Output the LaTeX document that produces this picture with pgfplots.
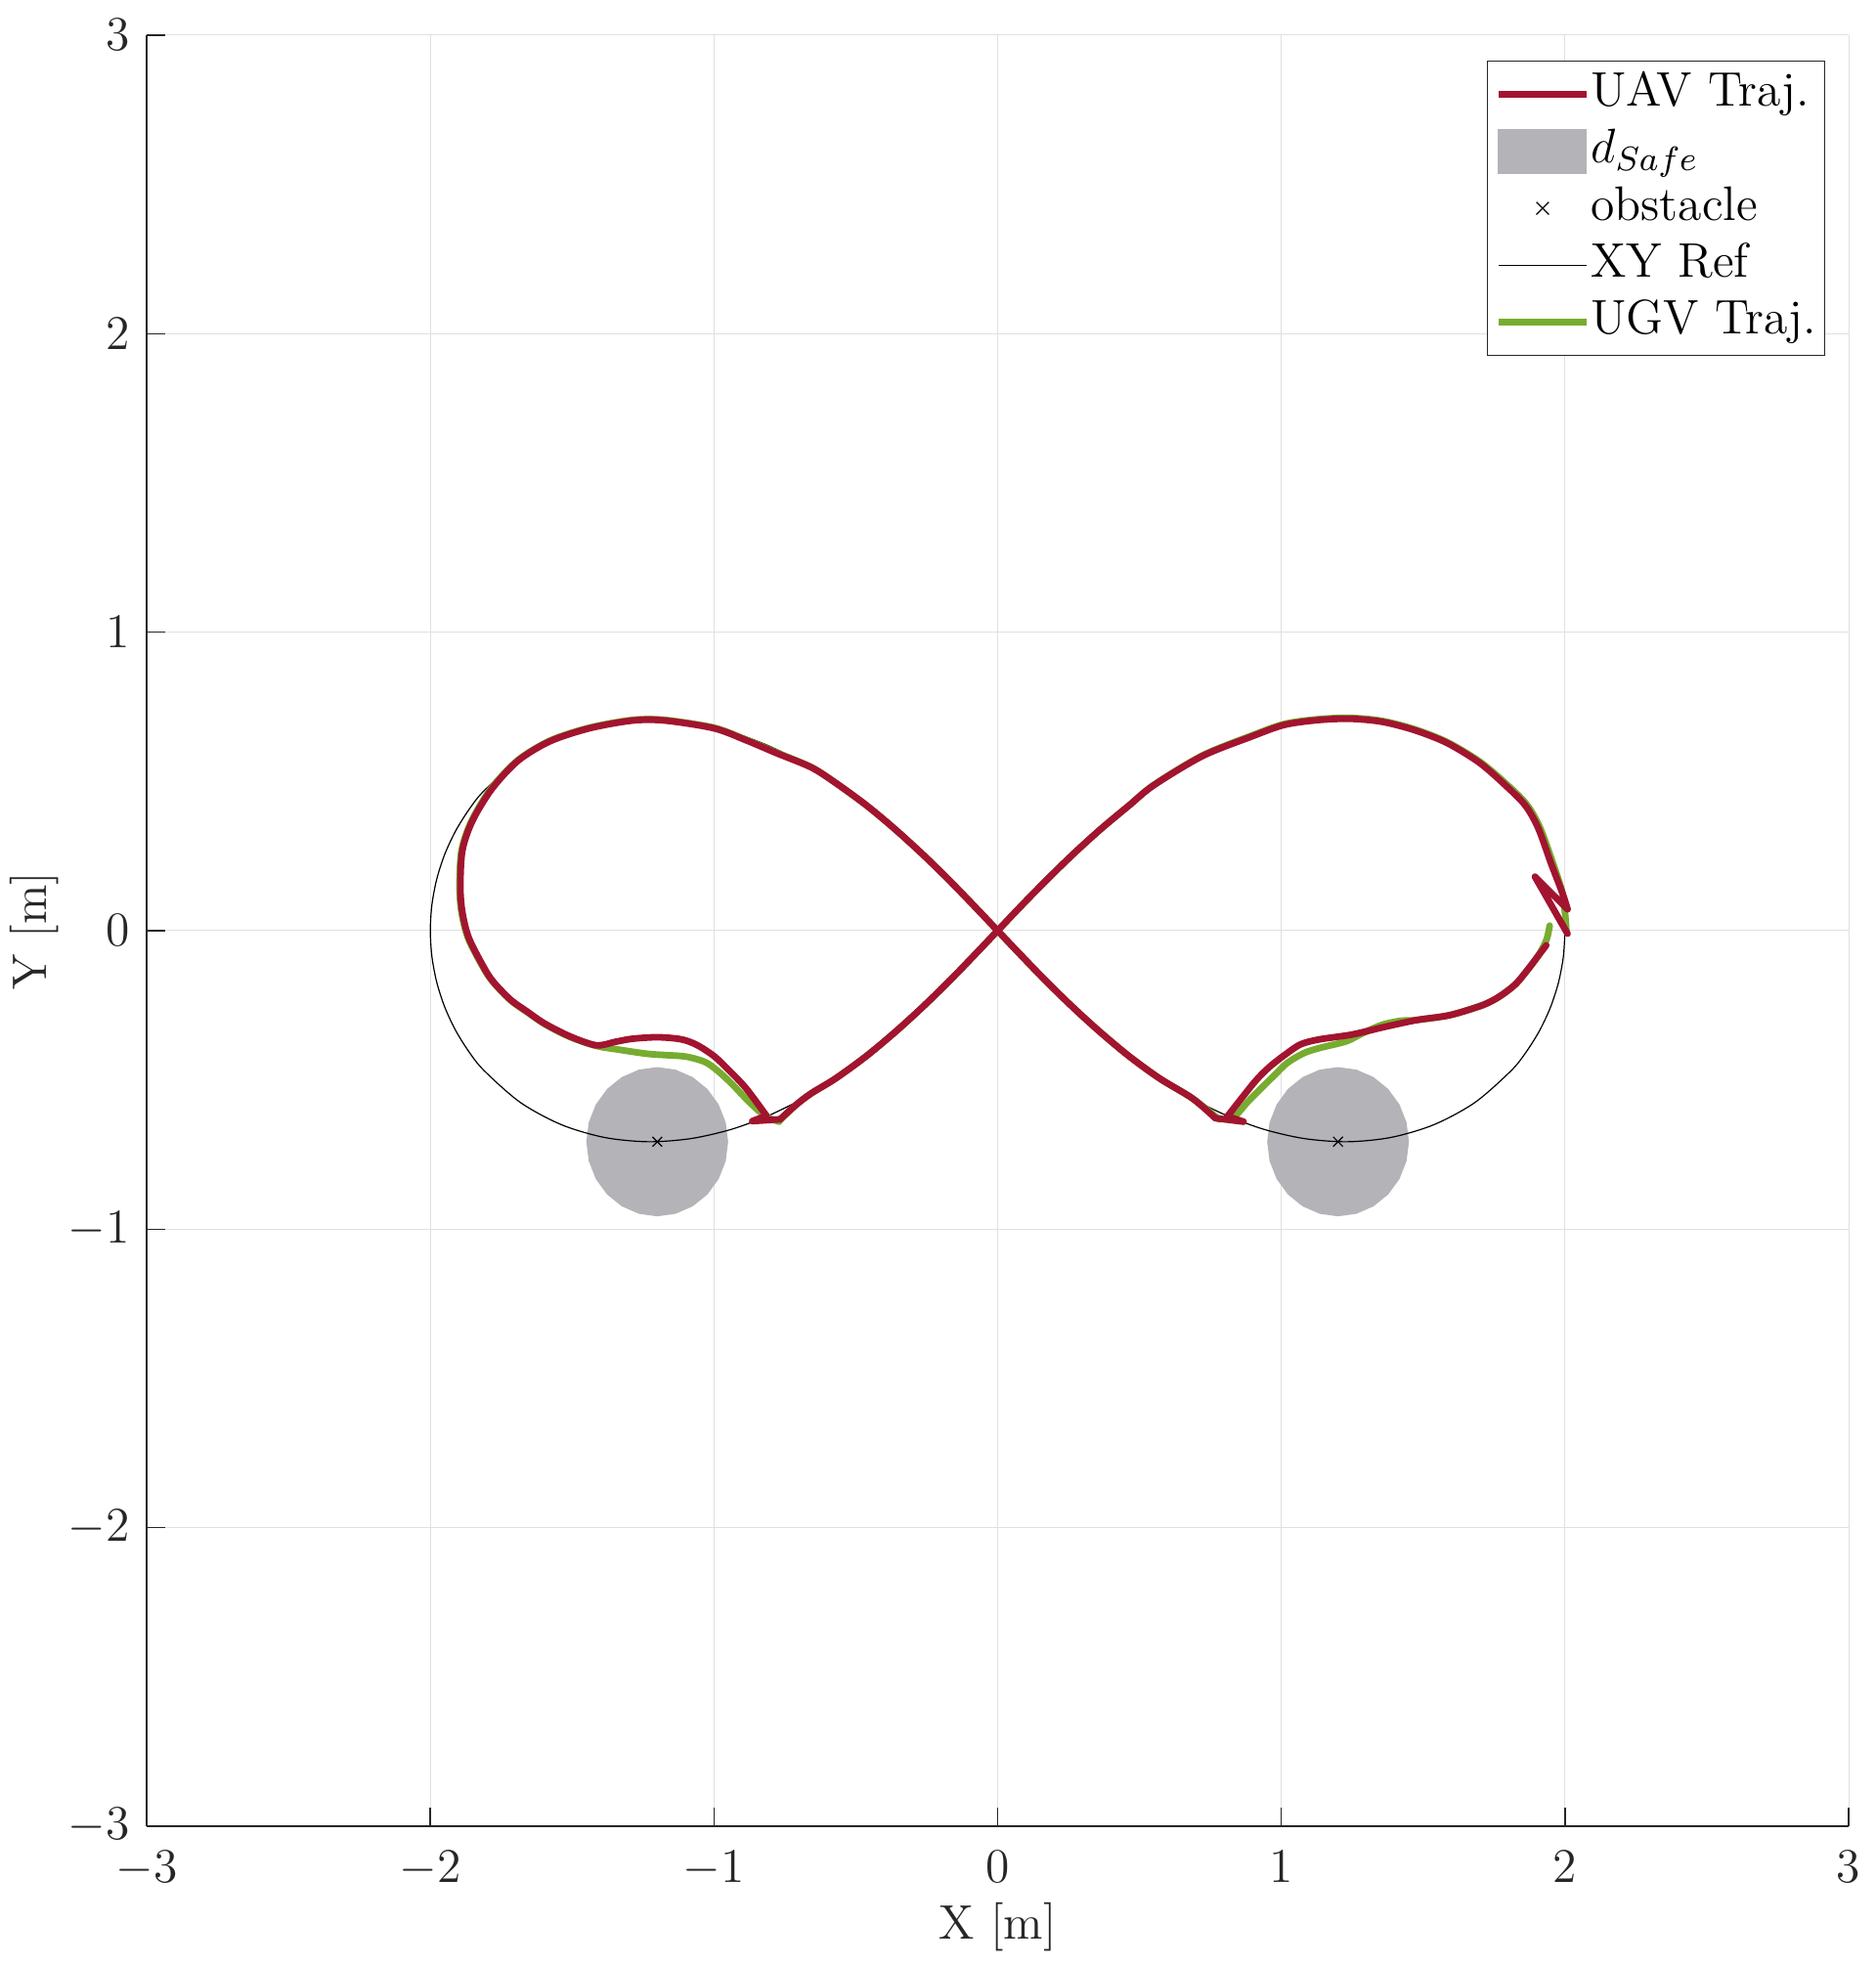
\RequirePackage{fix-cm}
\documentclass[border=0pt]{standalone}
\usepackage{pgfplots}
\pgfplotsset{compat=1.18}
\definecolor{uavred}{rgb}{0.635,0.078,0.184}
\definecolor{ugvgreen}{rgb}{0.466,0.674,0.188}
\definecolor{safegray}{RGB}{179,179,184}
\definecolor{axgray}{rgb}{0.15,0.15,0.15}
\begin{document}
\fontsize{12.4}{15}\selectfont
\begin{tikzpicture}
\begin{axis}[
  scale only axis, width=435.25pt, height=458pt,
  xmin=-3, xmax=3, ymin=-3, ymax=3,
  xtick={-3,-2,-1,0,1,2,3}, ytick={-3,-2,-1,0,1,2,3},
  axis x line*=bottom, axis y line*=left,
  axis line style={-, line width=0.35pt, axgray},
  tick align=inside, major tick length=4.7pt,
  tick style={line width=0.35pt, axgray},
  grid=major, grid style={line width=0.25pt, black!12},
  tick label style={text=axgray},
  xticklabel style={anchor=base, yshift=-14.25pt},
  every axis x label/.style={at={([yshift=-28.75pt]axis description cs:0.5,0)}, anchor=base, text=axgray},
  every axis y label/.style={at={([xshift=-25.5pt]axis description cs:0,0.5)}, rotate=90, anchor=base, text=axgray},
  xlabel={X [m]}, ylabel={Y [m]},
  legend style={at={(axis description cs:1,1)}, anchor=north east, xshift=-5.9pt, yshift=-6.5pt,
    draw=axgray, line width=0.35pt, fill=white, inner xsep=2.1pt, inner ysep=2.4pt,
    nodes={inner sep=0pt, text height=9pt, text depth=3pt, text=black},
    row sep=2.6pt, column sep=0.3pt},
  legend cell align=left,
  uav/.style={forget plot, uavred, line width=1.7pt, line join=round, line cap=round},
  ugv/.style={forget plot, ugvgreen, line width=1.7pt, line join=round, line cap=round},
]
% d_safe regions
\addplot[forget plot, fill=safegray, draw=none] coordinates {
(-0.95,-0.707) (-0.95852,-0.6423) (-0.98349,-0.582) (-1.02322,-0.53022) (-1.075,-0.49049) (-1.1353,-0.46552)
(-1.2,-0.457) (-1.2647,-0.46552) (-1.325,-0.49049) (-1.37678,-0.53022) (-1.41651,-0.582) (-1.44148,-0.6423)
(-1.45,-0.707) (-1.44148,-0.7717) (-1.41651,-0.832) (-1.37678,-0.88378) (-1.325,-0.92351) (-1.2647,-0.94848)
(-1.2,-0.957) (-1.1353,-0.94848) (-1.075,-0.92351) (-1.02322,-0.88378) (-0.98349,-0.832) (-0.95852,-0.7717)};
\addplot[forget plot, fill=safegray, draw=none] coordinates {
(1.45,-0.707) (1.44148,-0.6423) (1.41651,-0.582) (1.37678,-0.53022) (1.325,-0.49049) (1.2647,-0.46552)
(1.2,-0.457) (1.1353,-0.46552) (1.075,-0.49049) (1.02322,-0.53022) (0.98349,-0.582) (0.95852,-0.6423)
(0.95,-0.707) (0.95852,-0.7717) (0.98349,-0.832) (1.02322,-0.88378) (1.075,-0.92351) (1.1353,-0.94848)
(1.2,-0.957) (1.2647,-0.94848) (1.325,-0.92351) (1.37678,-0.88378) (1.41651,-0.832) (1.44148,-0.7717)};
% XY reference
\addplot[forget plot, black, line width=0.3pt, smooth] coordinates {
(2,0) (1.9943,0.0870) (1.9774,0.1724) (1.9497,0.2545) (1.9120,0.3320) (1.8652,0.4037) (1.8106,0.4686) (1.6826,0.5755) (1.5379,0.6500) (1.3856,0.6928) (1.2327,0.7071) (1.0841,0.6969) (0.9428,0.6667) (0.8102,0.6206) (0.6865,0.5624) (0.5714,0.4949) (0.4641,0.4206) (0.3633,0.3414) (0.2678,0.2587) (0.1763,0.1736) (0.0875,0.0872) (0,0)
(-0.0875,-0.0872) (-0.1763,-0.1736) (-0.2678,-0.2587) (-0.3633,-0.3414) (-0.4641,-0.4206) (-0.5714,-0.4949) (-0.6865,-0.5624) (-0.8102,-0.6206) (-0.9428,-0.6667) (-1.0841,-0.6969) (-1.2327,-0.7071) (-1.3856,-0.6928) (-1.5379,-0.6500) (-1.6826,-0.5755) (-1.8106,-0.4686) (-1.8652,-0.4037) (-1.9120,-0.3320) (-1.9497,-0.2545) (-1.9774,-0.1724) (-1.9943,-0.0870) (-2,0)
(-1.9943,0.0870) (-1.9774,0.1724) (-1.9497,0.2545) (-1.9120,0.3320) (-1.8652,0.4037) (-1.8106,0.4686) (-1.6826,0.5755) (-1.5379,0.6500) (-1.3856,0.6928) (-1.2327,0.7071) (-1.0841,0.6969) (-0.9428,0.6667) (-0.8102,0.6206) (-0.6865,0.5624) (-0.5714,0.4949) (-0.4641,0.4206) (-0.3633,0.3414) (-0.2678,0.2587) (-0.1763,0.1736) (-0.0875,0.0872) (0,0)
(0.0875,-0.0872) (0.1763,-0.1736) (0.2678,-0.2587) (0.3633,-0.3414) (0.4641,-0.4206) (0.5714,-0.4949) (0.6865,-0.5624) (0.8102,-0.6206) (0.9428,-0.6667) (1.0841,-0.6969) (1.2327,-0.7071) (1.3856,-0.6928) (1.5379,-0.6500) (1.6826,-0.5755) (1.8106,-0.4686) (1.8652,-0.4037) (1.9120,-0.3320) (1.9497,-0.2545) (1.9774,-0.1724) (1.9943,-0.0870) (2,0)};
% obstacles
\addplot[forget plot, only marks, mark=x, mark size=1.75pt, black, line width=0.3pt] coordinates {(-1.2,-0.707) (1.2,-0.707)};
% UGV trajectory
\addplot[ugv, smooth, tension=0.5] coordinates {
(2.005,0.0) (2.0,0.06) (1.99,0.13) (1.958,0.225) (1.912,0.345) (1.865,0.423) (1.795,0.49) (1.70,0.566) (1.584,0.632) (1.469,0.675) (1.354,0.703) (1.239,0.713) (1.124,0.708) (1.009,0.692) (0.894,0.653) (0.722,0.587) (0.550,0.488)
(0.464,0.42) (0.363,0.34) (0.268,0.258) (0.176,0.173) (0.087,0.087) (0,0)
(-0.087,-0.087) (-0.176,-0.174) (-0.268,-0.259) (-0.363,-0.341) (-0.464,-0.421) (-0.571,-0.495) (-0.657,-0.545) (-0.71,-0.583) (-0.77,-0.638)};
\addplot[ugv, smooth, tension=0.5] coordinates {
(-0.77,-0.640) (-0.805,-0.628) (-0.832,-0.612) (-0.88,-0.57) (-0.932,-0.518) (-0.98,-0.475) (-1.025,-0.443) (-1.07,-0.428) (-1.115,-0.42) (-1.23,-0.413) (-1.346,-0.397) (-1.415,-0.386)
(-1.508,-0.356) (-1.597,-0.313) (-1.66,-0.272) (-1.715,-0.235) (-1.77,-0.182) (-1.806,-0.136) (-1.866,-0.027) (-1.890,0.062) (-1.897,0.147) (-1.890,0.268) (-1.855,0.367) (-1.785,0.477) (-1.69,0.572) (-1.577,0.637) (-1.439,0.680) (-1.287,0.706) (-1.173,0.706) (-1.0,0.680) (-0.887,0.640) (-0.78,0.597) (-0.657,0.548)
(-0.571,0.495) (-0.464,0.421) (-0.363,0.341) (-0.268,0.259) (-0.176,0.174) (-0.087,0.087) (0,0)
(0.087,-0.087) (0.176,-0.174) (0.268,-0.259) (0.363,-0.341) (0.464,-0.421) (0.571,-0.495) (0.687,-0.562) (0.78,-0.632)};
\addplot[ugv, smooth, tension=0.5] coordinates {
(0.80,-0.632) (0.84,-0.618) (0.88,-0.575) (0.929,-0.528) (0.975,-0.485) (1.021,-0.443) (1.08,-0.41) (1.135,-0.393) (1.228,-0.371) (1.284,-0.345) (1.353,-0.316) (1.42,-0.302) (1.48,-0.299) (1.594,-0.283) (1.711,-0.249) (1.77,-0.22) (1.825,-0.18) (1.865,-0.135) (1.905,-0.085) (1.935,-0.03) (1.946,0.017)};
% UAV trajectory
\addplot[uav] coordinates {(2.009,-0.010) (1.894,0.181) (2.009,0.072)};
\addplot[uav, smooth, tension=0.5] coordinates {
(2.009,0.072) (1.991,0.126) (1.951,0.225) (1.905,0.345) (1.859,0.421) (1.790,0.487) (1.698,0.563) (1.584,0.629) (1.469,0.672) (1.354,0.700) (1.239,0.710) (1.124,0.705) (1.009,0.689) (0.894,0.650) (0.722,0.585) (0.550,0.487)
(0.464,0.42) (0.363,0.34) (0.268,0.258) (0.176,0.173) (0.087,0.087) (0,0)
(-0.087,-0.087) (-0.176,-0.174) (-0.268,-0.259) (-0.363,-0.341) (-0.464,-0.421) (-0.571,-0.495) (-0.657,-0.545) (-0.71,-0.583) (-0.767,-0.632)};
\addplot[uav] coordinates {(-0.767,-0.632) (-0.865,-0.638) (-0.815,-0.620)};
\addplot[uav, smooth, tension=0.5] coordinates {
(-0.815,-0.620) (-0.887,-0.528) (-0.95,-0.465) (-1.0,-0.42) (-1.06,-0.383) (-1.115,-0.364) (-1.198,-0.357) (-1.287,-0.362) (-1.346,-0.372) (-1.415,-0.384)
(-1.508,-0.354) (-1.597,-0.311) (-1.66,-0.27) (-1.715,-0.233) (-1.77,-0.18) (-1.804,-0.135) (-1.863,-0.027) (-1.887,0.062) (-1.894,0.147) (-1.887,0.268) (-1.852,0.367) (-1.783,0.475) (-1.69,0.570) (-1.577,0.635) (-1.439,0.678) (-1.287,0.704) (-1.173,0.704) (-1.0,0.678) (-0.887,0.638) (-0.78,0.595) (-0.657,0.547)
(-0.571,0.495) (-0.464,0.421) (-0.363,0.341) (-0.268,0.259) (-0.176,0.174) (-0.087,0.087) (0,0)
(0.087,-0.087) (0.176,-0.174) (0.268,-0.259) (0.363,-0.341) (0.464,-0.421) (0.571,-0.495) (0.687,-0.562) (0.767,-0.628)};
\addplot[uav] coordinates {(0.767,-0.628) (0.867,-0.640) (0.81,-0.622)};
\addplot[uav, smooth, tension=0.5] coordinates {
(0.81,-0.622) (0.905,-0.508) (0.96,-0.455) (1.021,-0.41) (1.07,-0.38) (1.135,-0.364) (1.249,-0.348) (1.366,-0.322) (1.48,-0.299) (1.594,-0.283) (1.711,-0.249) (1.77,-0.22) (1.825,-0.18) (1.865,-0.135) (1.905,-0.085) (1.934,-0.049)};
% legend
\addlegendimage{legend image code/.code={\draw[uavred, line width=1.7pt] (0pt,0pt) -- (22.4pt,0pt);}}
\addlegendentry{UAV Traj.}
\addlegendimage{legend image code/.code={\fill[safegray] (0pt,-5.6pt) rectangle (22.4pt,5.6pt);}}
\addlegendentry{$d_{Safe}$}
\addlegendimage{legend image code/.code={\path[draw=none] (0pt,0pt) -- (22.4pt,0pt); \draw[black, line width=0.3pt] (11.2pt,0pt) +(-1.6pt,-1.6pt) -- +(1.6pt,1.6pt) +(-1.6pt,1.6pt) -- +(1.6pt,-1.6pt);}}
\addlegendentry{obstacle}
\addlegendimage{legend image code/.code={\draw[black, line width=0.3pt] (0pt,0pt) -- (22.4pt,0pt);}}
\addlegendentry{XY Ref}
\addlegendimage{legend image code/.code={\draw[ugvgreen, line width=1.7pt] (0pt,0pt) -- (22.4pt,0pt);}}
\addlegendentry{UGV Traj.}
\end{axis}
\pgfresetboundingbox
\path ([xshift=-37.5pt, yshift=-35.75pt]current axis.south west) rectangle ([xshift=6.75pt, yshift=9pt]current axis.north east);
\end{tikzpicture}
\end{document}
